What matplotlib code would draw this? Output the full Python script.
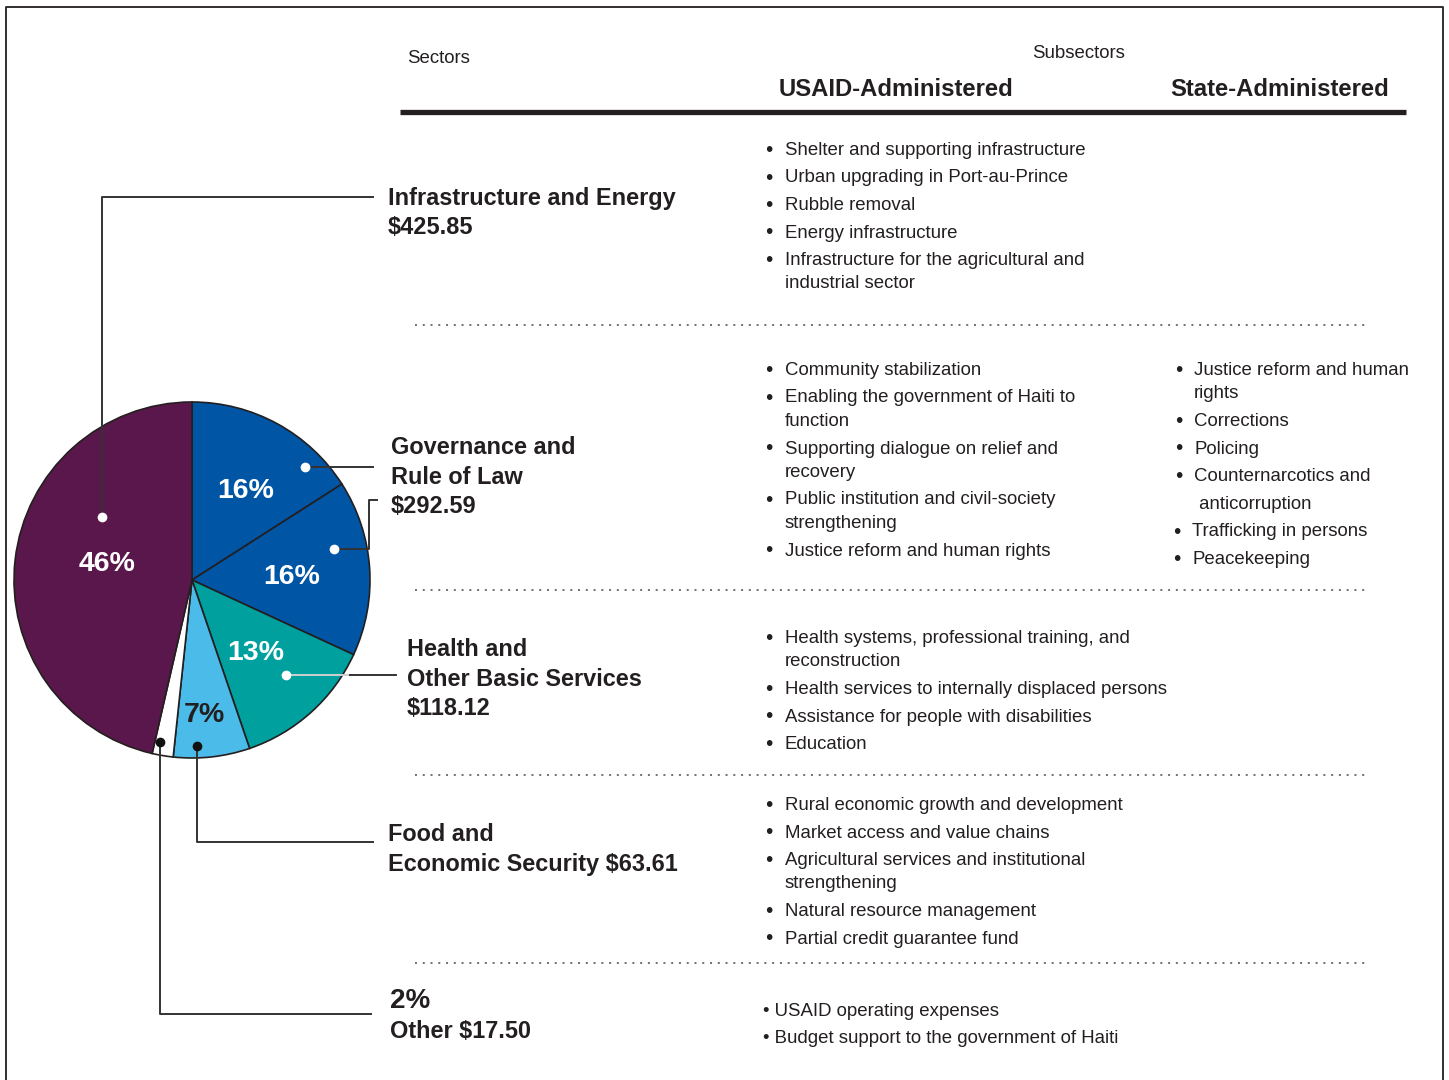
import matplotlib
matplotlib.use("Agg")
import matplotlib.pyplot as plt

plt.rcParams['font.family'] = ['Liberation Sans', 'DejaVu Sans']

# sector amounts (millions), governance shown as two halves in the pie
sectors = ["Governance (USAID)", "Governance (State)", "Health", "Food", "Other", "Infrastructure"]
amounts = [146.30, 146.29, 118.12, 63.61, 17.50, 425.85]
pct_labels = ["16%", "16%", "13%", "7%", "", "46%"]
colors = ["#0055a5", "#0055a5", "#00a09f", "#4bbcea", "#ffffff", "#5a174b"]
pct_colors = ["white", "white", "white", "#231f20", "white", "white"]

sector_labels = [
    ["Infrastructure and Energy", "$425.85"],
    ["Governance and", "Rule of Law", "$292.59"],
    ["Health and", "Other Basic Services", "$118.12"],
    ["Food and", "Economic Security $63.61"],
    ["2%", "Other $17.50"],
]

usaid_items = [
    ["Shelter and supporting infrastructure", "Urban upgrading in Port-au-Prince", "Rubble removal",
     "Energy infrastructure", "Infrastructure for the agricultural and\nindustrial sector"],
    ["Community stabilization", "Enabling the government of Haiti to\nfunction",
     "Supporting dialogue on relief and\nrecovery", "Public institution and civil-society\nstrengthening",
     "Justice reform and human rights"],
    ["Health systems, professional training, and\nreconstruction", "Health services to internally displaced persons",
     "Assistance for people with disabilities", "Education"],
    ["Rural economic growth and development", "Market access and value chains",
     "Agricultural services and institutional\nstrengthening", "Natural resource management",
     "Partial credit guarantee fund"],
    ["USAID operating expenses", "Budget support to the government of Haiti"],
]
state_items = ["Justice reform and human\nrights", "Corrections", "Policing",
               "Counternarcotics and\n anticorruption", "Trafficking in persons", "Peacekeeping"]

ink = "#231f20"
dy = 2.5  # small nudge so va=center sits like the original baselines

fig = plt.figure(figsize=(14.49, 10.8), dpi=100)
ax = fig.add_axes([0, 0, 1, 1])

# frame
ax.plot([5.5, 5.5, 1443, 1443], [1085, 6.5, 6.5, 1085], color=ink, lw=1.3)

# pie (y axis is inverted, so counterclock in data = clockwise on screen)
cx, cy, r = 192, 580, 178
wedges, _ = ax.pie(amounts, colors=colors, startangle=-90, counterclock=True,
                   center=(cx, cy), radius=r, frame=True,
                   wedgeprops=dict(edgecolor=ink, linewidth=1.2))
ax.set_xlim(0, 1449)
ax.set_ylim(1080, 0)
ax.set_aspect("equal")
ax.axis("off")

pct_pos = [(246, 490), (292, 576), (256, 652), (204, 714), None, (107, 563)]
for lab, pos, c in zip(pct_labels, pct_pos, pct_colors):
    if pos:
        ax.text(pos[0], pos[1] + 1, lab, color=c, fontsize=20.5, fontweight="bold", ha="center", va="center")

# leader lines
lc = "#333333"
ax.plot([102, 102, 373], [517, 197, 197], color=lc, lw=1.4)
ax.plot([305, 373], [467, 467], color=lc, lw=1.4)
ax.plot([334, 369, 369, 377], [549, 549, 500, 500], color=lc, lw=1.4)
ax.plot([286, 350], [675, 675], color="#cfcfcf", lw=1.4)
ax.plot([350, 396], [675, 675], color=lc, lw=1.4)
ax.plot([197, 197, 373], [746, 842, 842], color=lc, lw=1.4)
ax.plot([160, 160, 371], [742, 1014, 1014], color=lc, lw=1.4)
ax.plot([102, 305, 334, 286], [517, 467, 549, 675], "o", color="white", ms=7, mec="none")
ax.plot([197, 160], [746, 742], "o", color="#111111", ms=7, mec="none")

# headers
ax.text(407, 56 + dy, "Sectors", fontsize=13.4, color=ink, va="center")
ax.text(1079, 51 + dy, "Subsectors", fontsize=13.4, color=ink, va="center", ha="center")
ax.text(896, 87 + dy, "USAID-Administered", fontsize=17.2, fontweight="bold", color=ink, va="center", ha="center")
ax.text(1280, 87 + dy, "State-Administered", fontsize=17.2, fontweight="bold", color=ink, va="center", ha="center")
ax.plot([400, 1406], [112, 112], color=ink, lw=3.8, solid_capstyle="butt")

for yd in [325, 590, 775, 963]:
    ax.plot([415, 1365], [yd, yd], color="#666666", lw=1.3, linestyle=(0, (1.1, 3.2)))

# sector labels
lab_pos = [(388, 196), (391, 445), (407, 647), (388, 832), (390, 998)]
for lines, (x, y) in zip(sector_labels, lab_pos):
    for i, s in enumerate(lines):
        yy = y + i * 29.5
        fs = 16.9
        if s == "2%":
            fs = 20
        elif s.startswith("Other $"):
            yy = y + 31
        ax.text(x, yy + dy, s, fontsize=fs, fontweight="bold", color=ink, va="center")


def bullets(items, x_b, x_t, y0, gap=27.5, wrap=23.5):
    y = y0
    for it in items:
        ax.text(x_b, y + dy, "\u2022", fontsize=15, color=ink, va="center", ha="center")
        for j, part in enumerate(it.split("\n")):
            ax.text(x_t, y + j * wrap + dy, part, fontsize=13.4, color=ink, va="center")
        y += gap + (it.count("\n")) * wrap
    return y


for items, y0 in zip(usaid_items[:4], [148, 368, 636, 803]):
    bullets(items, 769, 785, y0)

# state column: the anticorruption line sits a full step lower in the original
y_next = bullets(state_items[:3], 1179, 1194, 368)
y_next = bullets(state_items[3:4], 1179, 1194, y_next, wrap=28)
bullets(state_items[4:], 1177, 1192, y_next)

y = 1009
for it in usaid_items[4]:
    ax.text(763, y + dy, "\u2022 " + it, fontsize=13.4, color=ink, va="center")
    y += 27

fig.savefig("out.png", dpi=100)
